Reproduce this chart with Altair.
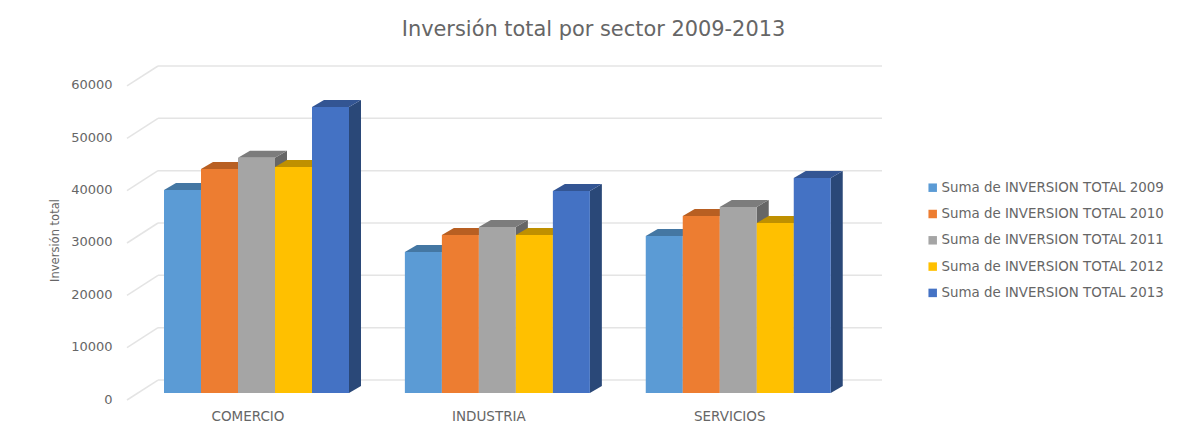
import altair as alt
import pandas as pd

sectors = ["COMERCIO", "INDUSTRIA", "SERVICIOS"]
years = ["Suma de INVERSION TOTAL 2009", "Suma de INVERSION TOTAL 2010", "Suma de INVERSION TOTAL 2011",
         "Suma de INVERSION TOTAL 2012", "Suma de INVERSION TOTAL 2013"]
comercio = [38800, 42800, 44950, 43200, 54650]
industria = [26950, 30200, 31700, 30200, 38600]
servicios = [30000, 33800, 35550, 32500, 41100]
ticks = [0, 10000, 20000, 30000, 40000, 50000, 60000]
front_colors = ["#5B9BD5", "#ED7D31", "#A5A5A5", "#FFC000", "#4472C4"]
top_colors = ["#4477A3", "#B85F22", "#7C7C7C", "#BF9000", "#335593"]
side_colors = ["#3B6A93", "#A05420", "#666666", "#A67C00", "#2A4878"]

# Pseudo-3D projection, in data units (x: one bar width; y: investment units)
X_MAX = 20.405
Y_MAX = 63820
FIRST = 1.0
STEP = 6.51
DX = 0.324
DY = 1340
WALL_X = 0.838
WALL_Y = 3820

bars, sides, tops = [], [], []
for c, vals in enumerate([comercio, industria, servicios]):
    for s, v in enumerate(vals):
        x0 = FIRST + c * STEP + s
        x1 = x0 + 1
        top = v + DY
        face = f"{c}-{s}"
        bars.append(dict(x=x0, x2=x1, y=top, y2=DY, serie=years[s], valor=v))
        sides += [dict(id=face, x=x1, y=top, y2=DY, col=side_colors[s]),
                  dict(id=face, x=x1 + DX, y=top + DY, y2=2 * DY, col=side_colors[s])]
        tops += [dict(id=face, x=x0, y=top, y2=top, col=top_colors[s]),
                 dict(id=face, x=x0 + DX, y=top, y2=top + DY, col=top_colors[s]),
                 dict(id=face, x=x1, y=top, y2=top + DY, col=top_colors[s]),
                 dict(id=face, x=x1 + DX, y=top + DY, y2=top + DY, col=top_colors[s])]

grid = pd.DataFrame([dict(x=WALL_X, x2=X_MAX, y=t + WALL_Y) for t in ticks])
diag = pd.DataFrame([r for t in ticks for r in (dict(t=t, x=0, y=t), dict(t=t, x=WALL_X, y=t + WALL_Y))])
labels = pd.DataFrame([dict(x=FIRST + c * STEP + 2.27, s=n) for c, n in enumerate(sectors)])

TEXT = "#666666"
X = alt.X("x:Q", scale=alt.Scale(domain=[0, X_MAX], nice=False, zero=False), axis=None)
Y = alt.Y("y:Q", scale=alt.Scale(domain=[0, Y_MAX], nice=False), stack=None,
          axis=alt.Axis(values=ticks, format="d", title="Inversión total", grid=False, domain=False, ticks=False,
                        labelFontSize=13, labelColor=TEXT, labelPadding=15, labelOffset=-1,
                        labelFont="DejaVu Sans", titleFont="DejaVu Sans", titleFontSize=11.5,
                        titleFontWeight="normal", titleColor=TEXT, titleX=-67, titleY=174))
GRID = "#E4E4E4"

grid_layer = alt.Chart(grid).mark_rule(color=GRID, strokeWidth=1.5).encode(x=X, x2="x2:Q", y=Y)
diag_layer = alt.Chart(diag).mark_line(color=GRID, strokeWidth=1.5).encode(x=X, y=Y, detail="t:N")
side_layer = alt.Chart(pd.DataFrame(sides)).mark_area(opacity=1, interpolate="linear").encode(
    x=X, y=Y, y2="y2:Q", detail="id:N", color=alt.Color("col:N", scale=None))
top_layer = alt.Chart(pd.DataFrame(tops)).mark_area(opacity=1, interpolate="linear").encode(
    x=X, y=Y, y2="y2:Q", detail="id:N", color=alt.Color("col:N", scale=None))
front_layer = alt.Chart(pd.DataFrame(bars)).mark_rect().encode(
    x=X, x2="x2:Q", y=Y, y2="y2:Q",
    color=alt.Color("serie:N", scale=alt.Scale(domain=years, range=front_colors),
                    legend=alt.Legend(title=None, orient="none", legendX=799, legendY=115,
                                      symbolType="square", symbolSize=72, symbolStrokeWidth=0,
                                      labelFontSize=13.4, labelFont="DejaVu Sans", labelColor=TEXT,
                                      labelOffset=2, rowPadding=11.3, labelLimit=260)))
label_layer = alt.Chart(labels).mark_text(font="DejaVu Sans", fontSize=13.5, color=TEXT).encode(
    x=X, y=alt.value(351), text="s:N")

chart = alt.layer(grid_layer, diag_layer, side_layer, top_layer, front_layer, label_layer).resolve_scale(
    color="independent"
).properties(
    width=755, height=334,
    background="white",
    autosize=alt.AutoSizeParams(type="none"),
    padding={"left": 119, "top": 58, "right": 285, "bottom": 24},
    title=alt.TitleParams("Inversión total por sector 2009-2013", font="DejaVu Sans", fontSize=20.9,
                          fontWeight="normal", color=TEXT, anchor="middle", dx=89, offset=23),
).configure_view(stroke=None)

chart.save("out.html", embed_options={"renderer": "svg", "actions": False})
